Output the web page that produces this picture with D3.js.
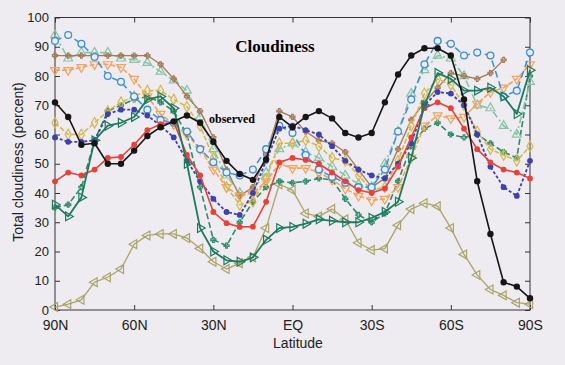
<!DOCTYPE html>
<html><head><meta charset="utf-8">
<script src="https://cdn.jsdelivr.net/npm/d3@7"></script>
<style>
html,body{margin:0;padding:0;background:#eeecf0;}
svg{display:block;}
</style></head>
<body>
<svg id="chart" width="565" height="365"></svg>
<script>
// Latitudes (degrees, + = north) at which values are given
const latitudes = [90,85,80,75,70,65,60,55,50,45,40,35,30,25,20,15,10,5,0,-5,-10,-15,-20,-25,-30,-35,-40,-45,-50,-55,-60,-65,-70,-75,-80,-85,-90];

const xTickValues = [90,60,30,0,-30,-60,-90];
const xTickLabels = ["90N","60N","30N","EQ","30S","60S","90S"];
const yTickValues = [0,10,20,30,40,50,60,70,80,90,100];

// Series values (total cloudiness, percent)
const observed   = [71,66,56.5,57,50,50,54.5,59.5,62.5,64.5,66.5,64,57.5,51,46.5,44.5,51.5,66,62.5,66,68,65.5,60.5,59,60.5,71,80.5,87,89.5,89.5,87,72,44,26,9.5,8,4];
const blueCircles = [92,94,91,86.5,80,78,73,68.5,65,64,61,55,50.5,47,46,48,55,63,60.5,53,48,45.5,43.5,42,42,48,61,72,84,92,91,87,88,87,73,75,88];
const lightGreenTri = [94,86,88,88,88,86,85.5,84.5,81.5,78.5,75,66,55,46,40,41,47,55,57,54,52,49,46,43,42,50,61,74,82,87,86,80,70,69,63,60,78];
const brownPlus = [87,87,87,87,87,87,87,87,84,79,73,68,59,48,39,42,53,68,66,61,58,57,54,48,42,45,55,65,71,76,81,80,79,81,85.5,null,null];
const orangeTri = [82,82,83,84,84,83,79,73,67,63.5,60,55,48,42,39,40,44,50,48.5,48.5,47,44.5,41.5,39,37.5,38,42,52,63,66.5,65.5,66,70.5,74.5,76,79,84];
const yellowDiamond = [64,60,60,64,68,71,73,75,75,72,69.5,63,52,42,36,37,45,57,57,58,56,52,51,46,41,42,51,63,74,79,77,70,61,55,53,51,56];
const darkGreenTri = [36,32,38.5,58,63,64,66,72,73,69,50,28,20,17,16.5,18,24,28,28.4,29.5,31,30.5,30,30,31.5,33.5,37,52,70,81,79,75,75,76,73,67,82];
const darkBlueStar = [59,57.5,57.5,58,67,68.5,68.5,66.5,63,59,51,44,38,33.5,32.5,40,51,62,63,61.5,60,56,51,48,46,45,50,57,70,74.5,74,70,60,49,42,39,51];
const redCircles = [44,47,46,48,52,52.3,56.5,61.5,63.5,64.3,53,46,33.5,29.7,28.4,28.5,37,50.5,52,51.3,50,47,44,41,40,41.5,49,59,69,71,69,62,55,50.5,48,47,45];
const tealPlus = [35,36,42,58,68,70,72,73,71,68,60,42,24,22,30,37,42,44,43.5,44,45,44.5,38,32.5,30,33,44,56,62,64,60,59,60,57,54,52,80];
const oliveTri = [1,2,3.5,9.5,11.2,14,22.5,25.5,26,26,24.6,21,16.5,14,16,18,28,43,41,33,32,34.5,31,23,20.5,21,29,34.5,36.5,35.5,28,19,12,7,5,2.5,2];

const seriesDefs = [
  {name:"olive", values: oliveTri, color:"#aaa46a", dash:null, width:1.3, marker:"triL", fill:"none"},
  {name:"teal", values: tealPlus, color:"#2f8a68", dash:"6,3", width:1.6, marker:"plus", fill:"none"},
  {name:"lightgreen", values: lightGreenTri, color:"#86c4a6", dash:"7,3,2,3", width:1.6, marker:"triU", fill:"none"},
  {name:"brown", values: brownPlus, color:"#a57a5a", dash:null, width:1.3, marker:"plus", fill:"none"},
  {name:"orange", values: orangeTri, color:"#f3a35c", dash:"5,2", width:1.6, marker:"triD", fill:"none"},
  {name:"yellow", values: yellowDiamond, color:"#d4b84e", dash:"5,2", width:1.6, marker:"diamond", fill:"none"},
  {name:"blue", values: blueCircles, color:"#3b8fdb", dash:"7,4", width:1.5, marker:"circleOpen", fill:"none"},
  {name:"darkblue", values: darkBlueStar, color:"#3d40ae", dash:"3,2", width:1.8, marker:"dot", fill:"#3d40ae"},
  {name:"red", values: redCircles, color:"#e8413a", dash:null, width:1.6, marker:"dot", fill:"#e8413a"},
  {name:"darkgreen", values: darkGreenTri, color:"#1e7a5c", dash:null, width:1.8, marker:"triR", fill:"none"},
  {name:"observed", values: observed, color:"#161616", dash:null, width:1.6, marker:"dotBig", fill:"#161616"}
];

(function draw(){
const svg = d3.select("#chart");
const W = 565, H = 365;
const pL = 55, pR = 530, pT = 17.5, pB = 310;

svg.append("rect").attr("width",W).attr("height",H).attr("fill","#eeecf0");

const x = d3.scaleLinear().domain([90,-90]).range([pL,pR]);
const y = d3.scaleLinear().domain([0,100]).range([pB,pT]);

const axisColor = "#333";
const fontSans = "'Liberation Sans', Arial, sans-serif";
const gx = svg.append("g").attr("transform",`translate(0,${pB})`)
  .call(d3.axisBottom(x).tickValues(xTickValues).tickFormat((d,i)=>xTickLabels[i]).tickSizeInner(-5).tickSizeOuter(0).tickPadding(10));
const gy = svg.append("g").attr("transform",`translate(${pL},0)`)
  .call(d3.axisLeft(y).tickValues(yTickValues).tickSizeInner(-5).tickSizeOuter(0).tickPadding(6));
const gt = svg.append("g").attr("transform",`translate(0,${pT})`)
  .call(d3.axisTop(x).tickValues(xTickValues).tickFormat("").tickSizeInner(-5).tickSizeOuter(0));
const gr = svg.append("g").attr("transform",`translate(${pR},0)`)
  .call(d3.axisRight(y).tickValues(yTickValues).tickFormat("").tickSizeInner(-5).tickSizeOuter(0));

[gx,gy,gt,gr].forEach(g=>{
  g.select(".domain").remove();
  g.selectAll("line").attr("stroke",axisColor).attr("stroke-width",1);
  g.selectAll("text").attr("fill","#222").style("font-family",fontSans).style("font-size","13px");
});
gx.selectAll("text").style("font-size","14px");

svg.append("rect").attr("x",pL).attr("y",pT).attr("width",pR-pL).attr("height",pB-pT)
  .attr("fill","none").attr("stroke",axisColor).attr("stroke-width",1);

const line = d3.line().defined(d=>d.v!=null).x(d=>x(d.lat)).y(d=>y(d.v));
const markerPath = {
  triU: d3.symbol().type(d3.symbolTriangle).size(34)(),
  triD: d3.symbol().type(d3.symbolTriangle).size(34)(),
  triL: d3.symbol().type(d3.symbolTriangle).size(34)(),
  triR: d3.symbol().type(d3.symbolTriangle).size(34)(),
  diamond: d3.symbol().type(d3.symbolDiamond).size(32)(),
  plus: d3.symbol().type(d3.symbolCross).size(14)()
};
const rot = {triU:0, triD:180, triL:-90, triR:90, diamond:0, plus:0};

seriesDefs.forEach(s=>{
  const pts = latitudes.map((lat,i)=>({lat, v:s.values[i]}));
  const g = svg.append("g").attr("class","series-"+s.name);
  g.append("path").datum(pts).attr("d",line).attr("fill","none")
    .attr("stroke",s.color).attr("stroke-width",s.width)
    .attr("stroke-dasharray",s.dash).attr("stroke-linejoin","round");
  const valid = pts.filter(d=>d.v!=null);
  if (s.marker==="circleOpen") {
    g.selectAll("circle").data(valid).join("circle")
      .attr("cx",d=>x(d.lat)).attr("cy",d=>y(d.v)).attr("r",3.4)
      .attr("fill","#eeecf0").attr("stroke",s.color).attr("stroke-width",1.3);
  } else if (s.marker==="dot" || s.marker==="dotBig") {
    g.selectAll("circle").data(valid).join("circle")
      .attr("cx",d=>x(d.lat)).attr("cy",d=>y(d.v)).attr("r",s.marker==="dotBig"?3.2:2.9)
      .attr("fill",s.fill);
  } else {
    g.selectAll("path.m").data(valid).join("path").attr("class","m")
      .attr("d",markerPath[s.marker])
      .attr("transform",d=>`translate(${x(d.lat)},${y(d.v)}) rotate(${rot[s.marker]})`)
      .attr("fill","none")
      .attr("stroke",s.color).attr("stroke-width",1.2);
  }
});

svg.append("text").attr("x",275).attr("y",52).attr("text-anchor","middle")
  .style("font-family","'Liberation Serif', 'Times New Roman', serif").style("font-weight","bold").style("font-size","17px")
  .attr("fill","#000").text("Cloudiness");
svg.append("text").attr("x",209).attr("y",123)
  .style("font-family","'Liberation Serif', 'Times New Roman', serif").style("font-weight","bold").style("font-size","12px")
  .attr("fill","#000").text("observed");
svg.append("text").attr("x",298).attr("y",348).attr("text-anchor","middle")
  .style("font-family",fontSans).style("font-size","14px").attr("fill","#222").text("Latitude");
svg.append("text").attr("transform",`translate(23,162) rotate(-90)`).attr("text-anchor","middle")
  .style("font-family",fontSans).style("font-size","14px").attr("fill","#222").text("Total cloudiness (percent)");
})();
</script>
</body></html>
